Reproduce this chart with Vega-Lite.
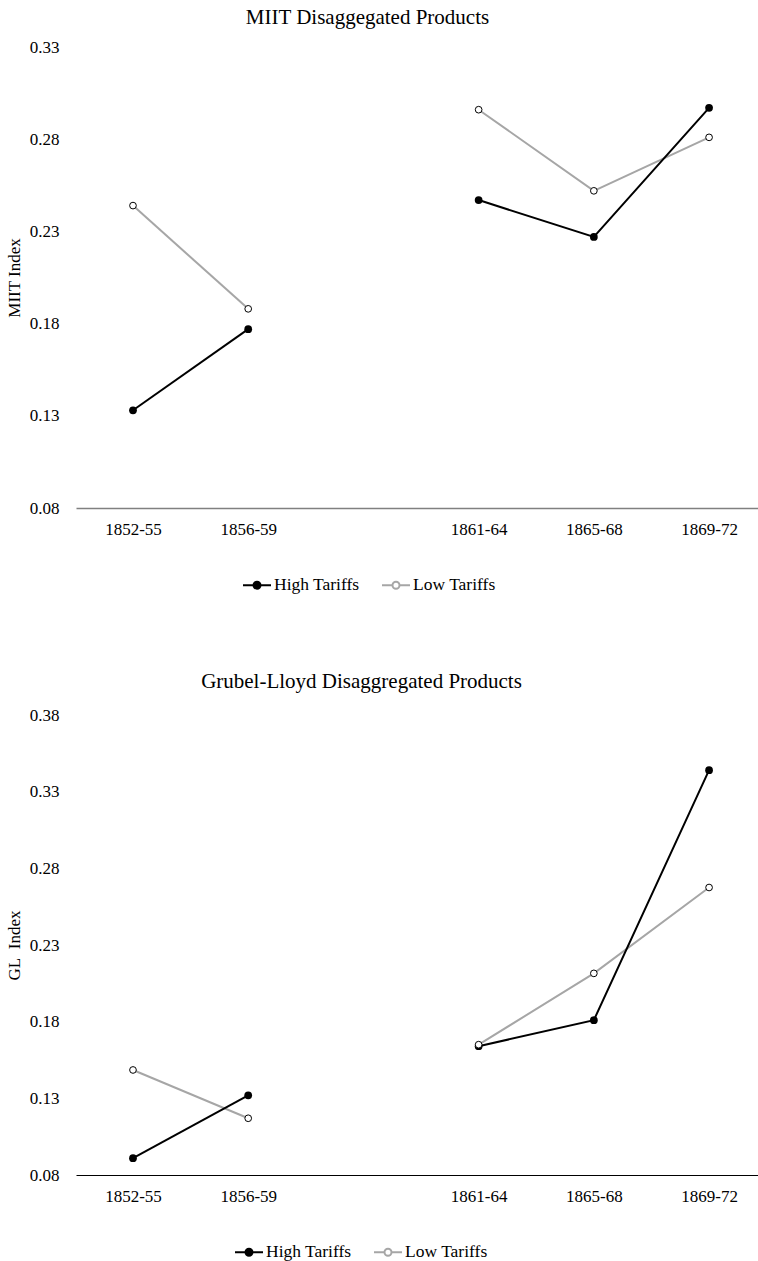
{
  "$schema": "https://vega.github.io/schema/vega-lite/v6.json",
  "padding": {"left": 5, "top": 7, "right": 0, "bottom": 0},
  "background": "white",
  "spacing": 77,
  "config": {
    "font": "Liberation Serif",
    "view": {"stroke": null},
    "axis": {"labelFont": "Liberation Serif", "titleFont": "Liberation Serif", "labelFontSize": 17, "titleFontSize": 17, "labelColor": "#000", "titleColor": "#000", "titleFontWeight": "normal", "grid": false, "ticks": false},
    "legend": {"labelFont": "Liberation Serif", "labelFontSize": 17, "labelColor": "#000"},
    "title": {"font": "Liberation Serif", "fontSize": 21, "fontWeight": "normal", "color": "#000"}
  },
  "datasets": {
    "miit": [
      {"period": "1852-55", "era": "pre", "series": "High Tariffs", "value": 0.133},
      {"period": "1856-59", "era": "pre", "series": "High Tariffs", "value": 0.177},
      {"period": "1861-64", "era": "post", "series": "High Tariffs", "value": 0.247},
      {"period": "1865-68", "era": "post", "series": "High Tariffs", "value": 0.227},
      {"period": "1869-72", "era": "post", "series": "High Tariffs", "value": 0.297},
      {"period": "1852-55", "era": "pre", "series": "Low Tariffs", "value": 0.244},
      {"period": "1856-59", "era": "pre", "series": "Low Tariffs", "value": 0.188},
      {"period": "1861-64", "era": "post", "series": "Low Tariffs", "value": 0.296},
      {"period": "1865-68", "era": "post", "series": "Low Tariffs", "value": 0.252},
      {"period": "1869-72", "era": "post", "series": "Low Tariffs", "value": 0.281}
    ],
    "gl": [
      {"period": "1852-55", "era": "pre", "series": "High Tariffs", "value": 0.091},
      {"period": "1856-59", "era": "pre", "series": "High Tariffs", "value": 0.132},
      {"period": "1861-64", "era": "post", "series": "High Tariffs", "value": 0.164},
      {"period": "1865-68", "era": "post", "series": "High Tariffs", "value": 0.181},
      {"period": "1869-72", "era": "post", "series": "High Tariffs", "value": 0.344},
      {"period": "1852-55", "era": "pre", "series": "Low Tariffs", "value": 0.1485},
      {"period": "1856-59", "era": "pre", "series": "Low Tariffs", "value": 0.117},
      {"period": "1861-64", "era": "post", "series": "Low Tariffs", "value": 0.165},
      {"period": "1865-68", "era": "post", "series": "Low Tariffs", "value": 0.2115},
      {"period": "1869-72", "era": "post", "series": "Low Tariffs", "value": 0.2675}
    ]
  },
  "resolve": {"scale": {"y": "independent", "stroke": "independent"}, "legend": {"stroke": "independent"}},
  "vconcat": [
    {
      "width": 683,
      "height": 461,
      "title": {"text": "MIIT Disaggegated Products", "frame": "group", "dx": -50, "offset": 10},
      "data": {"name": "miit"},
      "encoding": {
        "x": {"field": "period", "type": "ordinal",
          "scale": {"type": "point", "domain": ["1852-55", "1856-59", "gap", "1861-64", "1865-68", "1869-72"], "padding": 0.464, "align": 0.533},
          "axis": {"title": null, "labelAngle": 0, "labelPadding": 13, "labelFont": "Liberation Serif", "domainColor": "#808080", "domainWidth": 1.5, "labelExpr": "datum.label === 'gap' ? '' : datum.label"}},
        "y": {"field": "value", "type": "quantitative",
          "scale": {"domain": [0.08, 0.33], "nice": false, "zero": false},
          "axis": {"title": "MIIT Index", "values": [0.08, 0.13, 0.18, 0.23, 0.28, 0.33], "format": ".2f", "domain": false, "labelPadding": 17, "titlePadding": 6, "labelFont": "Liberation Serif", "titleFont": "Liberation Serif"}}
      },
      "layer": [
        {"transform": [{"filter": "datum.series === 'Low Tariffs'"}],
         "mark": {"type": "line", "strokeWidth": 2},
         "encoding": {"detail": {"field": "era"},
           "stroke": {"field": "series", "type": "nominal", "scale": {"domain": ["High Tariffs", "Low Tariffs"], "range": ["#000000", "#a6a6a6"]},
             "legend": {"orient": "none", "legendX": 166, "legendY": 523, "direction": "horizontal", "title": null,
               "labelFont": "Liberation Serif", "labelFontSize": 17.5,
               "symbolType": "M-1,0H-0.25M0.25,0H1M0.25,0A0.25,0.25,0,1,1,-0.25,0A0.25,0.25,0,1,1,0.25,0Z",
               "symbolSize": 784, "symbolStrokeWidth": 2, "labelOffset": 2, "columnPadding": 18,
               "encode": {"symbols": {"update": {"fill": [{"test": "datum.value === 'High Tariffs'", "value": "#000000"}, {"value": "#ffffff"}], "opacity": {"value": 1}}}}}}}},
        {"transform": [{"filter": "datum.series === 'High Tariffs'"}],
         "mark": {"type": "line", "strokeWidth": 2},
         "encoding": {"detail": {"field": "era"},
           "stroke": {"field": "series", "type": "nominal", "scale": {"domain": ["High Tariffs", "Low Tariffs"], "range": ["#000000", "#a6a6a6"]},
             "legend": {"orient": "none", "legendX": 166, "legendY": 523, "direction": "horizontal", "title": null,
               "labelFont": "Liberation Serif", "labelFontSize": 17.5,
               "symbolType": "M-1,0H-0.25M0.25,0H1M0.25,0A0.25,0.25,0,1,1,-0.25,0A0.25,0.25,0,1,1,0.25,0Z",
               "symbolSize": 784, "symbolStrokeWidth": 2, "labelOffset": 2, "columnPadding": 18,
               "encode": {"symbols": {"update": {"fill": [{"test": "datum.value === 'High Tariffs'", "value": "#000000"}, {"value": "#ffffff"}], "opacity": {"value": 1}}}}}}}},
        {"transform": [{"filter": "datum.series === 'High Tariffs'"}],
         "mark": {"type": "point", "filled": true, "fill": "#000000", "size": 60, "opacity": 1}},
        {"transform": [{"filter": "datum.series === 'Low Tariffs'"}],
         "mark": {"type": "point", "filled": true, "fill": "#ffffff", "stroke": "#000000", "strokeWidth": 1, "size": 45, "opacity": 1}}
      ]
    },
    {
      "width": 683,
      "height": 460,
      "title": {"text": "Grubel-Lloyd Disaggregated Products", "frame": "group", "dx": -56, "offset": 14},
      "data": {"name": "gl"},
      "encoding": {
        "x": {"field": "period", "type": "ordinal",
          "scale": {"type": "point", "domain": ["1852-55", "1856-59", "gap", "1861-64", "1865-68", "1869-72"], "padding": 0.464, "align": 0.533},
          "axis": {"title": null, "labelAngle": 0, "labelPadding": 13, "labelFont": "Liberation Serif", "domainColor": "#000000", "domainWidth": 1.2, "labelExpr": "datum.label === 'gap' ? '' : datum.label"}},
        "y": {"field": "value", "type": "quantitative",
          "scale": {"domain": [0.08, 0.38], "nice": false, "zero": false},
          "axis": {"title": "GL\u00a0 Index", "values": [0.08, 0.13, 0.18, 0.23, 0.28, 0.33, 0.38], "format": ".2f", "domain": false, "labelPadding": 17, "titlePadding": 6, "labelFont": "Liberation Serif", "titleFont": "Liberation Serif"}}
      },
      "layer": [
        {"transform": [{"filter": "datum.series === 'Low Tariffs'"}],
         "mark": {"type": "line", "strokeWidth": 2},
         "encoding": {"detail": {"field": "era"},
           "stroke": {"field": "series", "type": "nominal", "scale": {"domain": ["High Tariffs", "Low Tariffs"], "range": ["#000000", "#a6a6a6"]},
             "legend": {"orient": "none", "legendX": 158, "legendY": 522, "direction": "horizontal", "title": null,
               "labelFont": "Liberation Serif", "labelFontSize": 17.5,
               "symbolType": "M-1,0H-0.25M0.25,0H1M0.25,0A0.25,0.25,0,1,1,-0.25,0A0.25,0.25,0,1,1,0.25,0Z",
               "symbolSize": 784, "symbolStrokeWidth": 2, "labelOffset": 2, "columnPadding": 18,
               "encode": {"symbols": {"update": {"fill": [{"test": "datum.value === 'High Tariffs'", "value": "#000000"}, {"value": "#ffffff"}], "opacity": {"value": 1}}}}}}}},
        {"transform": [{"filter": "datum.series === 'High Tariffs'"}],
         "mark": {"type": "line", "strokeWidth": 2},
         "encoding": {"detail": {"field": "era"},
           "stroke": {"field": "series", "type": "nominal", "scale": {"domain": ["High Tariffs", "Low Tariffs"], "range": ["#000000", "#a6a6a6"]},
             "legend": {"orient": "none", "legendX": 158, "legendY": 522, "direction": "horizontal", "title": null,
               "labelFont": "Liberation Serif", "labelFontSize": 17.5,
               "symbolType": "M-1,0H-0.25M0.25,0H1M0.25,0A0.25,0.25,0,1,1,-0.25,0A0.25,0.25,0,1,1,0.25,0Z",
               "symbolSize": 784, "symbolStrokeWidth": 2, "labelOffset": 2, "columnPadding": 18,
               "encode": {"symbols": {"update": {"fill": [{"test": "datum.value === 'High Tariffs'", "value": "#000000"}, {"value": "#ffffff"}], "opacity": {"value": 1}}}}}}}},
        {"transform": [{"filter": "datum.series === 'High Tariffs'"}],
         "mark": {"type": "point", "filled": true, "fill": "#000000", "size": 60, "opacity": 1}},
        {"transform": [{"filter": "datum.series === 'Low Tariffs'"}],
         "mark": {"type": "point", "filled": true, "fill": "#ffffff", "stroke": "#000000", "strokeWidth": 1, "size": 45, "opacity": 1}}
      ]
    }
  ]
}
